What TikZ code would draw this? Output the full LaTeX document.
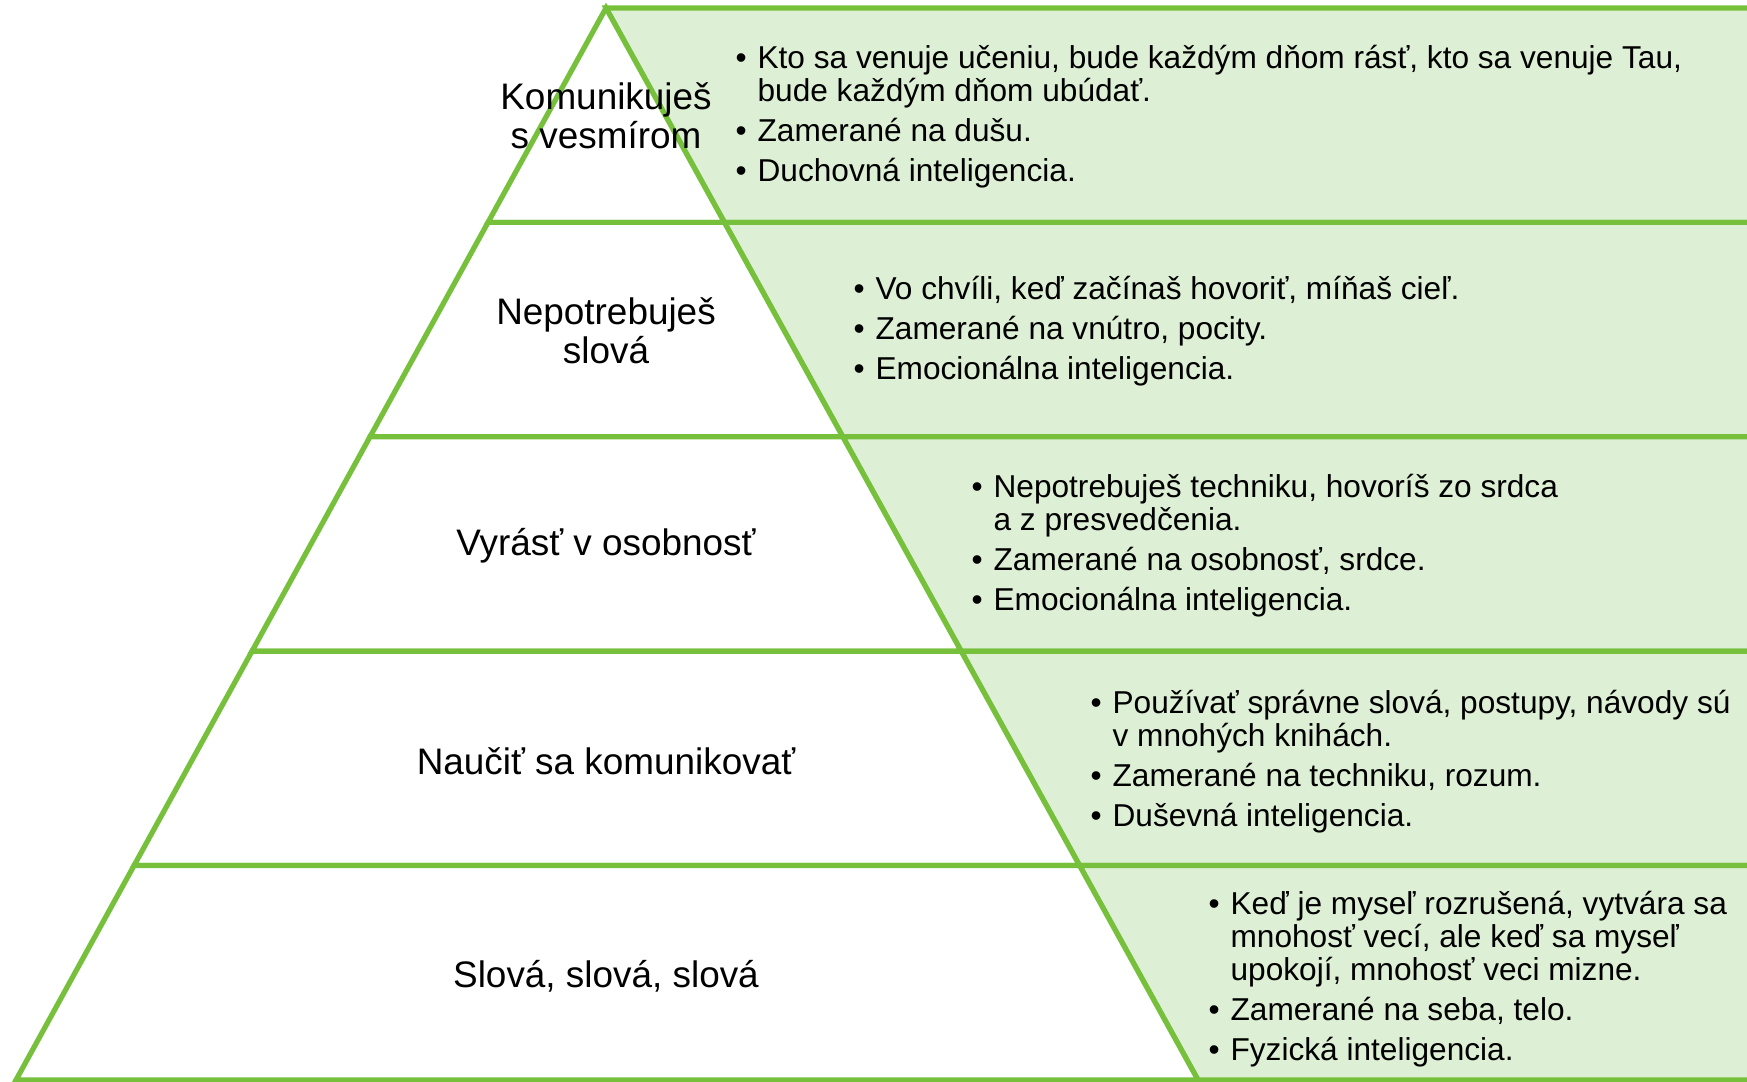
\documentclass[tikz,border=0pt]{standalone}
\usepackage{fontspec}
\setmainfont{Liberation Sans}
\usetikzlibrary{calc}
\definecolor{leaf}{RGB}{118,192,60}
\definecolor{leaflight}{RGB}{221,239,212}
\tikzset{
  every picture/.style={line width=0.52mm, line join=miter},
  tier/.style={draw=leaf, fill=white},
  side/.style={draw=leaf, fill=leaflight},
  lvl/.style={font=\fontsize{10.5pt}{11.2pt}\selectfont, align=center, inner sep=0pt},
  pts/.style={font=\fontsize{9pt}{9.4pt}\selectfont, align=left, anchor=west, inner sep=0pt},
}
\newcommand{\bod}{\makebox[2.2mm][l]{•}}
\newcommand{\dal}{\hspace*{2.2mm}}

\begin{document}
\begin{tikzpicture}[x=0.1mm, y=-0.1mm]
  % Five tiers of a pyramid; each tier has a green band to its right with notes.
  \path[use as bounding box, clip] (0,0) rectangle (1747,1082);
  \coordinate (apex) at (606,8);
  \coordinate (bl) at (16,1080);
  \coordinate (br) at (1198,1080);
  \coordinate (edge) at (1765,0);
  \foreach \k in {0,...,5} {
    \coordinate (L\k) at ($(apex)!\k/5!(bl)$);
    \coordinate (R\k) at ($(apex)!\k/5!(br)$);
  }
  \foreach \k [evaluate=\k as \j using int(\k-1)] in {1,...,5} {
    \draw[side] (R\j) -- (R\j -| edge) -- (R\k -| edge) -- (R\k) -- cycle;
    \draw[tier] (L\j) -- (R\j) -- (R\k) -- (L\k) -- cycle;
  }
  \node[lvl] (t1) at (606,116) {Komunikuješ\\s vesmírom};
  \node[lvl] (t2) at (606,331) {Nepotrebuješ\\slová};
  \node[lvl] (t3) at (606,546) {Vyrásť v osobnosť};
  \node[lvl] (t4) at (606,761) {Naučiť sa komunikovať};
  \node[lvl] (t5) at (606,976) {Slová, slová, slová};
  \node[pts] (d1) at (733,117) {\bod Kto sa venuje učeniu, bude každým dňom rásť, kto sa venuje Tau,\\
    \dal bude každým dňom ubúdať.\\[2pt]
    \bod Zamerané na dušu.\\[2pt]
    \bod Duchovná inteligencia.};
  \node[pts] (d2) at (851,331) {\bod Vo chvíli, keď začínaš hovoriť, míňaš cieľ.\\[2pt]
    \bod Zamerané na vnútro, pocity.\\[2pt]
    \bod Emocionálna inteligencia.};
  \node[pts] (d3) at (969,546) {\bod Nepotrebuješ techniku, hovoríš zo srdca\\
    \dal a z presvedčenia.\\[2pt]
    \bod Zamerané na osobnosť, srdce.\\[2pt]
    \bod Emocionálna inteligencia.};
  \node[pts] (d4) at (1088,762) {\bod Používať správne slová, postupy, návody sú\\
    \dal v mnohých knihách.\\[2pt]
    \bod Zamerané na techniku, rozum.\\[2pt]
    \bod Duševná inteligencia.};
  \node[pts] (d5) at (1206,979) {\bod Keď je myseľ rozrušená, vytvára sa\\
    \dal mnohosť vecí, ale keď sa myseľ\\
    \dal upokojí, mnohosť veci mizne.\\[2pt]
    \bod Zamerané na seba, telo.\\[2pt]
    \bod Fyzická inteligencia.};
\end{tikzpicture}
\end{document}
